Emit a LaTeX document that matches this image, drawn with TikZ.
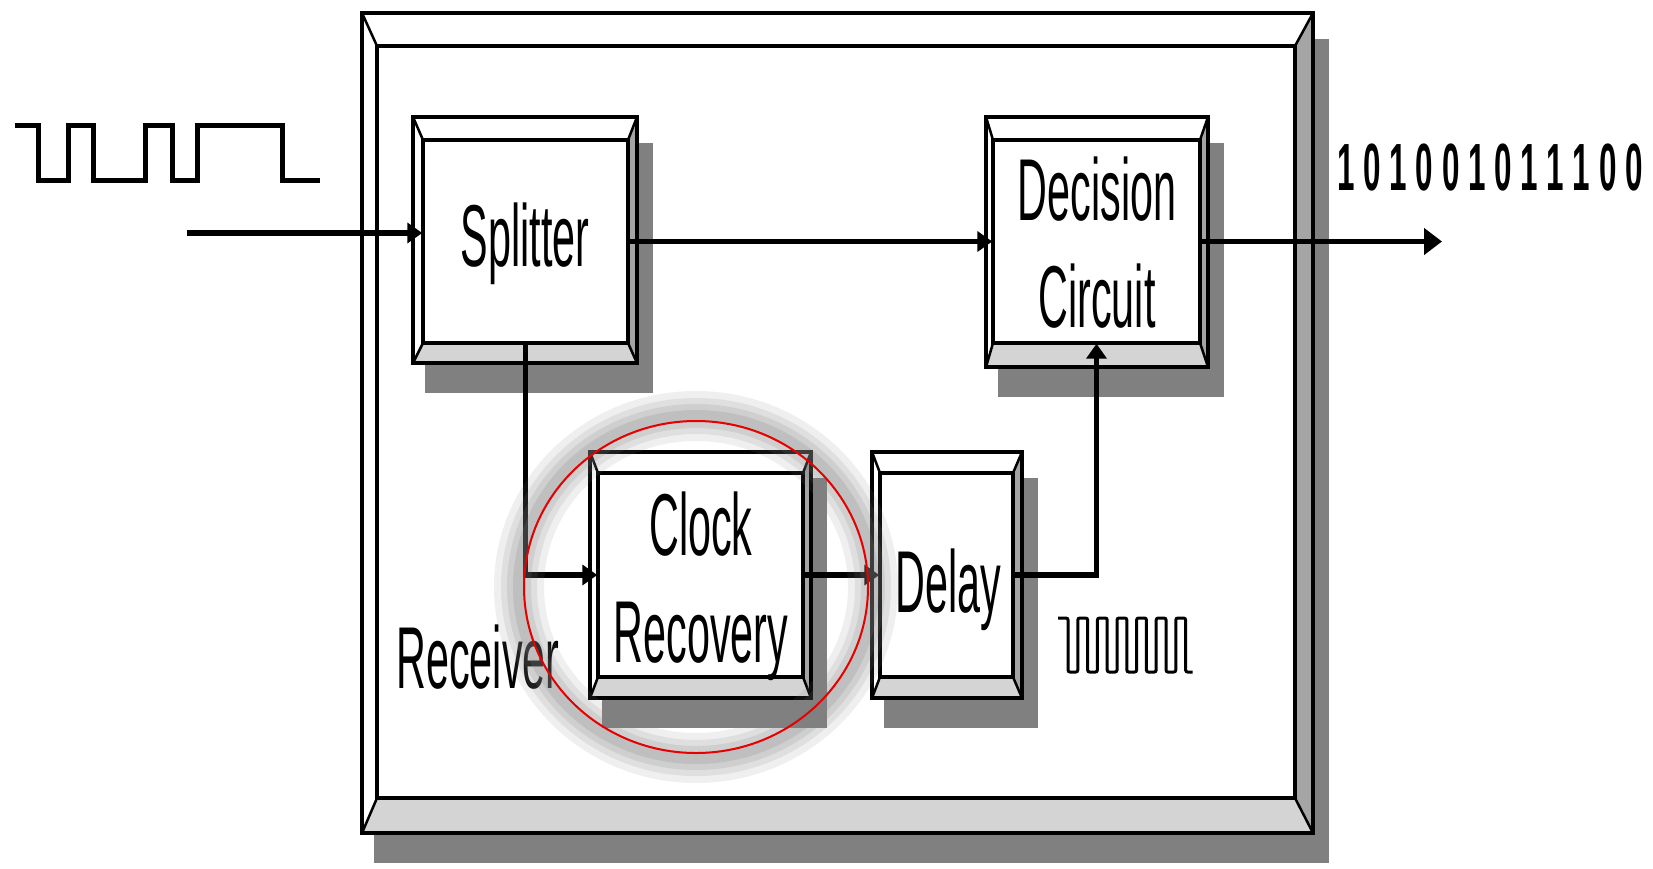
\documentclass[tikz,border=0pt]{standalone}
\usepackage{fontspec}
\setmainfont{Liberation Sans}
\usepackage{graphicx}
\usetikzlibrary{arrows.meta, fit}
\definecolor{shadegray}{RGB}{128,128,128}
\definecolor{bevelgray}{RGB}{165,165,165}
\definecolor{bevellight}{RGB}{212,212,212}
\definecolor{ringred}{RGB}{230,0,0}

\newcommand{\sq}[1]{\scalebox{0.47}[1]{#1}}
% #1 name, #2-#5 outer box, #6-#9 inner box
\newcommand{\bevbox}[9]{%
  \fill[shadegray] (#2+12,#3+26) rectangle (#4+16,#5+30);
  \fill[white] (#2,#3) rectangle (#4,#5);
  \fill[bevelgray] (#4,#3) -- (#8,#7) -- (#8,#9) -- (#4,#5) -- cycle;
  \fill[bevellight] (#2,#5) -- (#6,#9) -- (#8,#9) -- (#4,#5) -- cycle;
  \draw[line width=0.25mm] (#2,#3) -- (#6,#7) (#4,#3) -- (#8,#7) (#2,#5) -- (#6,#9) (#4,#5) -- (#8,#9);
  \draw[frame] (#2,#3) rectangle (#4,#5);
  \draw[frame] (#6,#7) rectangle (#8,#9);
  \coordinate (#1-nw) at (#6,#7);
  \coordinate (#1-se) at (#8,#9);
  \node[inner sep=0pt, fit=(#1-nw)(#1-se)] (#1) {};
}

\begin{document}
\begin{tikzpicture}[
  x=0.1mm, y=-0.1mm,
  frame/.style={draw=black, line width=0.35mm},
  lbl/.style={inner sep=0pt, font=\fontsize{25}{30.4}\selectfont},
  bits/.style={inner sep=0pt, font=\fontsize{19}{22}\selectfont\bfseries},
  wire/.style={draw=black, line width=0.55mm, -{Triangle[length=1.5mm, width=2mm]}},
  wave/.style={draw=black, line width=0.5mm},
  clockwave/.style={draw=black, line width=0.3mm, rounded corners=0.2mm}
]
  \useasboundingbox (0,0) rectangle (1653,868);

  % receiver frame and blocks
  \bevbox{rx}{362}{13}{1313}{833}{377}{46}{1295}{798}
  \bevbox{splitter}{413}{117}{637}{363}{423}{140}{628}{343}
  \bevbox{decision}{986}{117}{1208}{367}{993}{140}{1200}{343}
  \bevbox{clock}{590}{452}{811}{698}{598}{473}{803}{677}
  \bevbox{delay}{872}{452}{1022}{698}{880}{473}{1013}{677}

  \node[lbl, anchor=base] (splitterlbl) at (525,266) {\sq{Splitter}};
  \node[lbl, align=center] (decisionlbl) at (1097,243) {\sq{Decision}\\\sq{Circuit}};
  \node[lbl, align=center] (clocklbl) at (701,586) {\sq{Clock}\\\sq{Recovery}};
  \node[lbl, anchor=base] (delaylbl) at (948,612) {\sq{Delay}};
  \node[lbl, anchor=base] (rxlbl) at (478,688) {\sq{Receiver}};
  \node[bits, anchor=base] (bitslbl) at (1490,190) {\sq{1 0 1 0 0 1 0 1 1 1 0 0}};

  % connectors
  \coordinate (in) at (187,233);
  \coordinate (out) at (1442,242);
  \draw[wire] (in) -- (in -| splitter.west);
  \draw[wire] (splitter.east) -- (decision.west);
  \draw[wire, -{Triangle[length=1.8mm, width=2.6mm]}] (decision.east) -- (decision.east -| out);
  \draw[wire] (splitter.south) |- (clock.west);
  \draw[wire] (clock.east) -- (delay.west);
  \draw[wire] (delay.east) -| (decision.south);

  % data and clock waveforms
  \draw[wave] (15,125) -- (38,125) -- (38,180) -- (68,180) -- (68,125) -- (93,125) -- (93,180)
    -- (145,180) -- (145,125) -- (172,125) -- (172,180) -- (197,180) -- (197,125)
    -- (282,125) -- (282,180) -- (320,180);
  \draw[clockwave] (1058,618) -- (1068,618)
    \foreach \k in {1,...,6} { -- ++(0,54) -- ++(9.8,0) -- ++(0,-54) -- ++(9.8,0) }
    -- ++(0,54) -- ++(7,0);

  % highlight ring
  \foreach \w/\o in {5/0.12, 3.6/0.14, 2.4/0.16, 1.2/0.2}
    \draw[shadegray, opacity=\o, line width=\w mm] (696,587) ellipse (177 and 171);
  \draw[ringred, line width=0.2mm] (696,587) ellipse (172 and 166);
\end{tikzpicture}
\end{document}
